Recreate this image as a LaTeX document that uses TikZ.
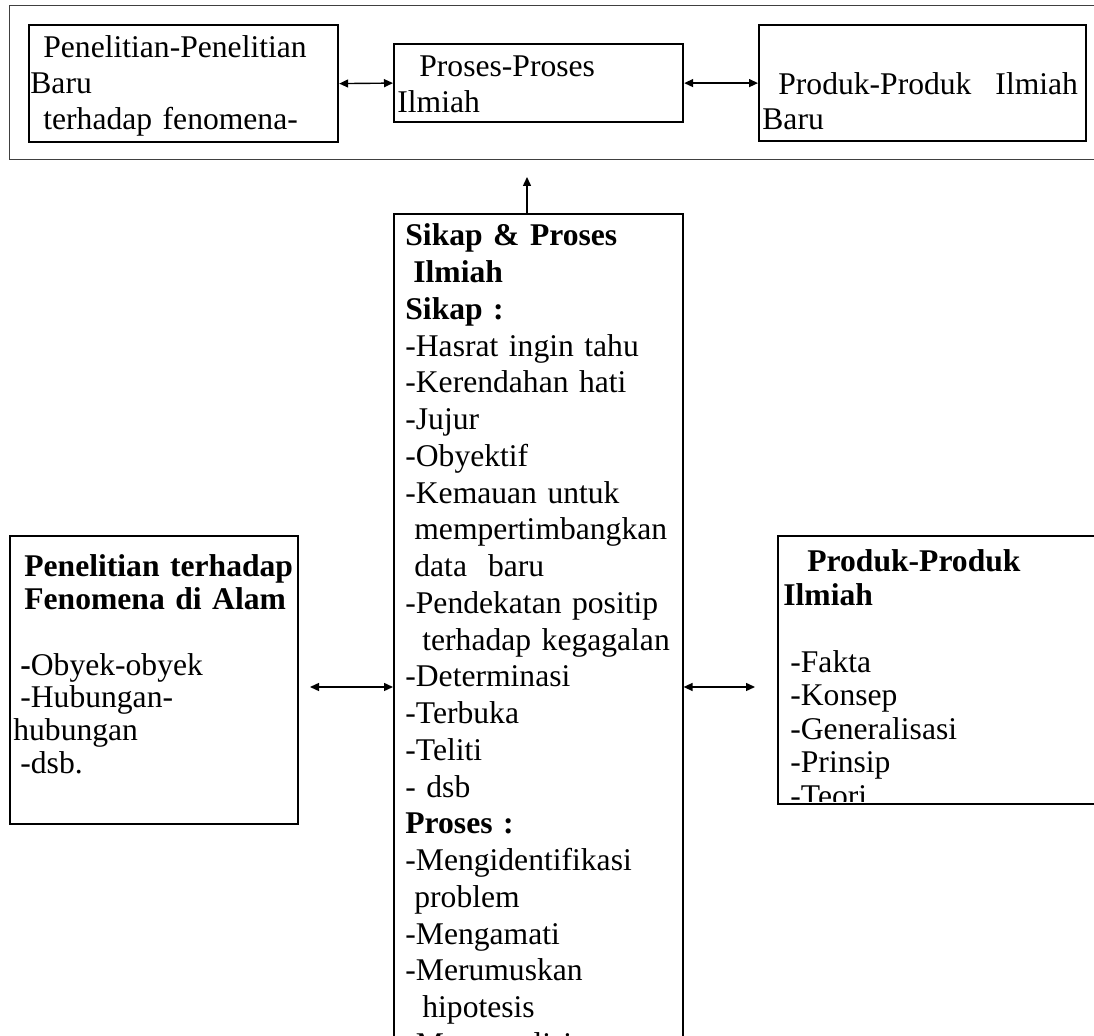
\documentclass[tikz,border=0pt]{standalone}
\usepackage{fontspec}
\setmainfont{Liberation Serif}
\usetikzlibrary{arrows.meta}
\begin{document}
\begin{tikzpicture}[x=0.5pt,y=-0.5pt,
  box/.style={draw, inner sep=0pt, anchor=north west, line width=0.9pt},
  outerbox/.style={draw=black!75, inner sep=0pt, anchor=north west, line width=0.6pt},
  txt/.style={inner sep=0pt, anchor=base west, text width=300pt, align=left},
  tiph/.tip={Triangle[length=4.5pt,width=4pt]},
  arr/.style={line width=0.7pt, tiph-tiph},
  uparr/.style={line width=0.7pt, -tiph}]
\useasboundingbox (0,0) rectangle (1094,1036);
\clip (0,0) rectangle (1094,1036);

% top group
\node[outerbox, minimum width=550.5pt, minimum height=77pt] (outer) at (9,5) {};
\node[box, line width=1.1pt, minimum width=154.5pt, minimum height=58.5pt] (b1) at (28,24) {};
\node[box, line width=1.1pt, minimum width=144.5pt, minimum height=39pt] (b2) at (393,43) {};
\node[box, line width=1.1pt, minimum width=163.5pt, minimum height=58pt] (b3) at (758,24) {};

\node[txt, font=\fontsize{15.8pt}{18pt}\selectfont] (b1t) at (30,57.5)
  {\hspace*{6.5pt}Penelitian-Penelitian\\Baru\\\hspace*{6.5pt}terhadap fenomena-};
\node[txt, font=\fontsize{15.8pt}{18pt}\selectfont] (b2t) at (397,77)
  {\hspace*{11pt}Proses-Proses\\Ilmiah};
\node[txt, font=\fontsize{15.8pt}{17.5pt}\selectfont] (b3t) at (762,95)
  {\hspace*{8pt}Produk-Produk\hspace{12pt}Ilmiah\\Baru};

\draw[arr] (b1.east) -- (b2.west);
\draw[arr] (b2.east) -- (b3.west);

% center box
\node[box, line width=0.8pt, minimum width=144.5pt, minimum height=443.5pt] (ctr) at (393,213) {};
\node[txt, font=\fontsize{15.8pt}{18.375pt}\selectfont] (ctrt) at (405,246)
  {\textbf{Sikap \& Proses}\\
   \hspace*{4pt}\textbf{Ilmiah}\\
   \textbf{Sikap :}\\
   -Hasrat ingin tahu\\
   -Kerendahan hati\\
   -Jujur\\
   -Obyektif\\
   -Kemauan untuk\\
   \hspace*{4.5pt}mempertimbangkan\\
   \hspace*{4.5pt}data\ \ baru\\
   -Pendekatan positip\\
   \hspace*{8.5pt}terhadap kegagalan\\
   -Determinasi\\
   -Terbuka\\
   -Teliti\\
   - dsb\\
   \textbf{Proses :}\\
   -Mengidentifikasi\\
   \hspace*{4.5pt}problem\\
   -Mengamati\\
   -Merumuskan\\
   \hspace*{8.5pt}hipotesis\\
   -Menganalisis};

\coordinate (upc) at (527,177);
\draw[uparr] (ctr.north -| upc) -- (upc);

% left box
\node[box, line width=0.8pt, minimum width=144pt, minimum height=144pt] (lb) at (9,535) {};
\node[txt, font=\fontsize{15.8pt}{16.35pt}\selectfont] (lbt) at (13,577)
  {\hspace*{5.5pt}\textbf{Penelitian terhadap}\\
   \hspace*{5.5pt}\textbf{Fenomena di Alam}\\
   \mbox{}\\
   \hspace*{3.5pt}\textbf{-}Obyek-obyek\\
   \hspace*{3.5pt}-Hubungan-\\
   hubungan\\
   \hspace*{3.5pt}-dsb.};

% right box
\node[box, line width=0.8pt, minimum width=166.5pt, minimum height=134pt] (rb) at (777,535) {};
\begin{scope}
\clip (779,537) rectangle (1100,802);
\node[txt, font=\fontsize{15.8pt}{16.75pt}\selectfont] (rbt) at (783,572)
  {\hspace*{12pt}\textbf{Produk-Produk}\\
   \textbf{Ilmiah}\\
   \mbox{}\\
   \hspace*{3.5pt}-Fakta\\
   \hspace*{3.5pt}-Konsep\\
   \hspace*{3.5pt}-Generalisasi\\
   \hspace*{3.5pt}-Prinsip\\
   \hspace*{3.5pt}-Teori};
\end{scope}

\coordinate (la) at (310,687);
\coordinate (ra) at (755,687);
\draw[arr] (la) -- (ctr.west |- la);
\draw[arr] (ctr.east |- ra) -- (ra);
\end{tikzpicture}
\end{document}
